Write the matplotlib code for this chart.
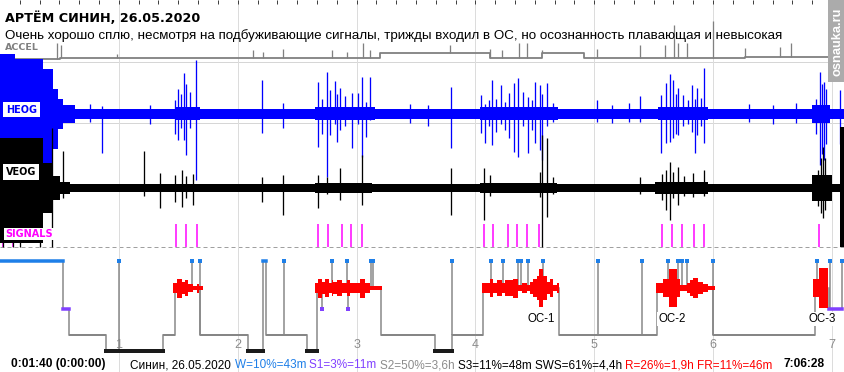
import matplotlib
matplotlib.use('Agg')
import matplotlib.pyplot as plt
from matplotlib.patches import Rectangle
import numpy as np

# ======================= DATA =======================
title = "АРТЁМ СИНИН, 26.05.2020"
subtitle = ("Очень хорошо сплю, несмотря на подбуживающие сигналы, трижды входил в ОС, "
            "но осознанность плавающая и невысокая")
start_label = "0:01:40 (0:00:00)"
end_label = "7:06:28"
watermark = "osnauka.ru"
hour_ticks = [1, 2, 3, 4, 5, 6, 7]
record_hours = 7.11

stats_parts = ["Синин, 26.05.2020", "W=10%=43m", "S1=3%=11m", "S2=50%=3,6h",
               "S3=11%=48m SWS=61%=4,4h", "R=26%=1,9h FR=11%=46m"]
stats_keys = ["txt", "W", "S1", "S2", "S3", "R"]

# hypnogram: stage change times (h) and stages
hyp_t = [0.000, 0.530, 0.581, 0.892, 1.371, 1.472, 1.683, 2.087, 2.213, 2.238, 2.583,
         2.667, 3.206, 3.660, 3.803, 4.064, 4.703, 5.528, 5.999, 6.857, 6.975, 7.085]
hyp_stage = ['W', 'S1', 'S2', 'S3', 'S2', 'R', 'S2', 'S3', 'W', 'S2', 'S3',
             'R', 'S2', 'S3', 'S2', 'R', 'S2', 'R', 'S2', 'R', 'S1']

# brief awakenings (h) and the stage they rise from
wake_t = [1.001, 1.615, 1.683, 2.390, 2.791, 2.917, 3.119, 3.136, 3.803, 4.129, 4.229,
          4.361, 4.381, 4.445, 4.566, 5.029, 5.399, 5.618, 5.707, 5.741, 5.777, 6.002,
          6.874, 6.984, 7.085]
wake_from = ['S3', 'R', 'S2', 'S2', 'R', 'R', 'R', 'R', 'S2', 'R', 'R',
             'R', 'R', 'R', 'R', 'S2', 'S2', 'R', 'R', 'R', 'R', 'S2',
             'R', 'S1', 'S1']
# brief drops to S1 during REM
s1_brief_t = [2.707, 2.925]

# REM episodes: breakpoints (h) and eye-movement density per step
rem_breaks = [
    [1.456, 1.489, 1.531, 1.557, 1.582, 1.624, 1.658, 1.674, 1.708],
    [2.650, 2.676, 2.709, 2.735, 2.768, 2.793, 2.802, 2.836, 2.878, 2.920, 2.945,
     3.029, 3.071, 3.113, 3.214],
    [4.056, 4.123, 4.148, 4.182, 4.224, 4.249, 4.316, 4.358, 4.392, 4.434, 4.459,
     4.485, 4.518, 4.535, 4.569, 4.602, 4.628, 4.653, 4.687, 4.703],
    [5.520, 5.578, 5.629, 5.696, 5.722, 5.780, 5.806, 5.831, 5.873, 5.915, 5.957, 6.016],
    [6.841, 6.891, 6.967],
]
rem_density = [
    [5, 9.5, 6, 8, 4, 2, 4.5, 2],
    [5, 9.5, 6, 9, 5, 8, 6, 8, 5, 8, 5, 9.5, 5, 2],
    [5, 9, 5, 8, 5, 8, 9.5, 3, 5, 3, 6, 9, 12, 19, 12, 6, 9, 3, 5],
    [5, 9, 19, 9, 3, 5, 8, 10, 6, 4, 2],
    [9, 20],
]
oc_names = ["OC-1", "OC-2", "OC-3"]
oc_t = [4.552, 5.654, 6.916]

# sound signals (h)
signal_t = [0.025, 0.109, 1.481, 1.565, 1.658, 2.676, 2.760, 2.878, 2.953, 3.046,
            4.072, 4.148, 4.274, 4.350, 4.434, 4.535,
            5.570, 5.654, 5.738, 5.839, 5.923, 6.891]

# ACCEL: baseline level per period + spikes
accel_t = [0.000, 0.505, 3.197, 4.123, 4.560, 4.914, 6.268, 6.967]
accel_level = [2.0, 2.7, 7.7, 2.7, 7.7, 2.7, 4.3]
accel_spike_t = [0.480, 0.513, 0.984, 2.129, 2.213, 2.381, 2.793, 2.920, 3.054, 3.113,
                 3.786, 4.123, 4.224, 4.367, 4.434, 4.560, 5.023, 5.385, 5.595, 5.671,
                 5.705, 5.780, 5.999, 6.268, 6.563, 6.655]
accel_spike_v = [18, 16, 7, 11, 9, 12, 11, 9, 18, 11,
                 16, 12, 11, 18, 18, 11, 12, 16, 16, 36,
                 18, 18, 40, 13, 14, 18]

# HEOG: envelope (up, down) per period + spikes (t, up, down)
heog_t = [0.000, 0.126, 0.362, 0.446, 0.488, 0.530, 0.631, 1.472, 1.683, 2.650, 3.155,
          4.039, 4.695, 5.536, 5.957, 6.832, 6.984, 7.110]
heog_up = [60, 55, 45, 25, 15, 9, 5, 6.5, 5, 6.5, 5, 6.5, 5, 6.5, 5, 9, 5]
heog_dn = [50, 55, 55, 35, 15, 9, 5, 6.5, 5, 6.5, 5, 6.5, 5, 6.5, 5, 9, 5]
heog_spike_t = [0.757, 0.858, 1.262, 1.472, 1.498, 1.523, 1.548, 1.565, 1.599, 1.649,
                2.204, 2.381, 2.676, 2.709, 2.751, 2.777, 2.819, 2.836, 2.861, 2.903,
                2.962, 3.012, 3.046, 3.080, 3.113, 3.450, 3.600, 3.795, 4.047, 4.081,
                4.114, 4.140, 4.173, 4.215, 4.249, 4.283, 4.325, 4.358, 4.401, 4.443,
                4.476, 4.501, 4.544, 4.560, 4.602, 4.653, 5.023, 5.150, 5.292, 5.385,
                5.562, 5.604, 5.637, 5.663, 5.688, 5.705, 5.747, 5.789, 5.822, 5.848,
                5.865, 5.898, 5.923, 6.300, 6.500, 6.700, 6.866, 6.899, 6.916, 6.933,
                6.950, 7.068]
heog_spike_up = [10, 8, 9, 14, 25, 20, 41, 30, 22, 54,
                 34, 11, 32, 15, 42, 24, 33, 20, 26, 18,
                 21, 21, 37, 12, 37, 10, 9, 27, 19, 10,
                 14, 34, 15, 29, 12, 21, 31, 36, 22, 17,
                 14, 32, 29, 20, 31, 11, 14, 9, 11, 18,
                 19, 31, 40, 34, 20, 26, 19, 14, 29, 15,
                 26, 16, 46, 10, 9, 11, 15, 42, 30, 32,
                 25, 24]
heog_spike_dn = [8, 39, 10, 20, 26, 14, 26, 41, 14, 66,
                 19, 14, 33, 20, 63, 21, 10, 28, 16, 12,
                 34, 10, 43, 23, 6, 9, 12, 34, 19, 29,
                 12, 31, 18, 10, 16, 24, 38, 43, 12, 39,
                 16, 29, 36, 46, 12, 8, 8, 9, 8, 8,
                 39, 29, 28, 24, 20, 21, 12, 10, 18, 39,
                 21, 12, 29, 8, 10, 9, 20, 51, 40, 46,
                 30, 30]

# VEOG
veog_t = [0.000, 0.362, 0.446, 0.505, 0.589, 2.650, 3.130, 4.039, 4.687, 5.511, 5.957,
          6.832, 7.000, 7.068, 7.110]
veog_up = [50, 25, 12, 6, 3.8, 5, 3.8, 5, 3.8, 6, 3.8, 13, 4, 61]
veog_dn = [55, 25, 12, 6, 3.8, 5, 3.8, 5, 3.8, 6, 3.8, 13, 4, 59]
veog_spike_t = [0.025, 0.109, 0.168, 0.337, 0.438, 0.530, 1.212, 1.346, 1.472, 1.531,
                1.565, 1.624, 2.204, 2.381, 2.676, 2.751, 2.861, 3.046, 3.795, 4.072,
                4.123, 4.544, 4.560, 4.602, 4.653, 5.385, 5.570, 5.604, 5.637, 5.663,
                5.705, 5.755, 5.831, 5.923, 6.857, 6.883, 6.908, 6.925, 6.941, 6.967]
veog_spike_up = [45, 40, 50, 45, 60, 37, 37, 15, 13, 18,
                 12, 14, 11, 13, 13, 11, 20, 33, 20, 20,
                 13, 16, 53, 50, 11, 11, 14, 18, 26, 16,
                 21, 12, 15, 18, 12, 18, 30, 41, 30, 12]
veog_spike_dn = [59, 59, 59, 59, 59, 10, 8, 20, 14, 19,
                 10, 17, 14, 27, 20, 6, 12, 17, 27, 32,
                 8, 9, 59, 29, 6, 6, 12, 22, 32, 10,
                 17, 8, 9, 8, 10, 18, 25, 30, 22, 10]

# ======================= LAYOUT / STYLE =======================
W_PX, H_PX = 845, 372
PT = 0.72  # points per pixel at 100 dpi
Y_ACCEL, Y_HEOG, Y_VEOG = 61, 113.5, 188
Y_SIG0, Y_SIG1 = 224, 247
Y_REM = 288
stage_y = {'W': 260.5, 'R': Y_REM, 'S1': 309, 'S2': 335, 'S3': 350.5}
C_W, C_S1, C_S2, C_S3, C_R = '#1e7fe8', '#8040ff', '#868686', '#1a1a1a', '#ff0000'
seg_style = {'W': (C_W, 3.5), 'S1': (C_S1, 3.5), 'S2': (C_S2, 2.0), 'S3': (C_S3, 4.0)}
stat_colors = {'txt': '#000000', 'W': C_W, 'S1': C_S1, 'S2': '#8c8c8c', 'S3': '#000000', 'R': C_R}

fig = plt.figure(figsize=(W_PX / 100, H_PX / 100), dpi=100)
fig.patch.set_facecolor('white')

bg = fig.add_axes([0, 0, 1, 1], zorder=0)
ax = fig.add_axes([0, 0, 1, 1], zorder=1)
fg = fig.add_axes([0, 0, 1, 1], zorder=2)
for a in (bg, fg):
    a.set_xlim(0, W_PX)
    a.set_ylim(H_PX, 0)
ax.set_xlim(0, W_PX / 118.85)
ax.set_ylim(H_PX, 0)
for a in (bg, ax, fg):
    a.axis('off')
    a.patch.set_alpha(0)

# background guides
bg.hlines([Y_ACCEL + 0.5, 123, 186], 0, W_PX, color='#d6d6d6', lw=1 * PT)
bg.hlines(Y_SIG1, 0, W_PX, color='#a0a0a0', lw=1 * PT, linestyles=(0, (4, 3)))

# hour grid + top ticks
ax.vlines(hour_ticks, 0, H_PX, color='#dcdcdc', lw=1 * PT, zorder=0)
ax.vlines(np.arange(1 / 6, record_hours, 1 / 6), 0, 4, color='#404040', lw=1 * PT, zorder=0)
for h in hour_ticks:
    ax.text(h, 348.5, str(h), ha='center', va='baseline', color='#8c8c8c',
            fontsize=9, family='Liberation Sans')

# ACCEL
acc_base = [Y_ACCEL - v for v in accel_level]
ax.step(accel_t, acc_base + [acc_base[-1]], where='post', color='#808080', lw=1.8 * PT, zorder=1)
idx = np.searchsorted(accel_t, accel_spike_t, side='right') - 1
ax.vlines(accel_spike_t, [acc_base[i] for i in idx], [Y_ACCEL - v for v in accel_spike_v],
          color='#808080', lw=1.3 * PT, zorder=1)

# HEOG
ax.fill_between(heog_t, [Y_HEOG - u for u in heog_up + [heog_up[-1]]],
                [Y_HEOG + d for d in heog_dn + [heog_dn[-1]]],
                step='post', color='#0000ff', lw=0, zorder=2)
ax.vlines(heog_spike_t, [Y_HEOG - u for u in heog_spike_up],
          [Y_HEOG + d for d in heog_spike_dn], color='#0000ff', lw=1.3 * PT, zorder=2)

# signals
ax.vlines(signal_t, Y_SIG0, Y_SIG1, color='#ff00ff', lw=1.5 * PT, zorder=1.5)

# VEOG
ax.fill_between(veog_t, [Y_VEOG - u for u in veog_up + [veog_up[-1]]],
                [Y_VEOG + d for d in veog_dn + [veog_dn[-1]]],
                step='post', color='#000000', lw=0, zorder=3)
ax.vlines(veog_spike_t, [Y_VEOG - u for u in veog_spike_up],
          [Y_VEOG + d for d in veog_spike_dn], color='#000000', lw=1.3 * PT, zorder=3)

# hypnogram
for i, st in enumerate(hyp_stage):
    t0, t1 = hyp_t[i], hyp_t[i + 1]
    if st in seg_style:
        c, w = seg_style[st]
        ax.plot([t0, t1], [stage_y[st], stage_y[st]], color=c, lw=w * PT,
                solid_capstyle='butt' if st == 'S2' else 'projecting', zorder=4.5)
    if i > 0:
        ax.plot([t0, t0], [stage_y[hyp_stage[i - 1]], stage_y[st]], color=C_S2,
                lw=1.5 * PT, zorder=4)
for b, d in zip(rem_breaks, rem_density):
    dd = d + [d[-1]]
    ax.fill_between(b, [Y_REM - v for v in dd], [Y_REM + v for v in dd], step='post',
                    color=C_R, lw=0, zorder=5)
ax.vlines(wake_t, stage_y['W'], [stage_y[s] for s in wake_from], color=C_S2,
          lw=1.5 * PT, zorder=4)
ax.plot(wake_t, [stage_y['W']] * len(wake_t), 's', color=C_W, ms=3.6 * PT, mew=0, zorder=6)
ax.vlines(s1_brief_t, stage_y['R'], stage_y['S1'], color=C_S2, lw=1.5 * PT, zorder=4)
ax.plot(s1_brief_t, [stage_y['S1']] * len(s1_brief_t), 's', color=C_S1, ms=3.6 * PT,
        mew=0, zorder=6)
for name, t in zip(oc_names, oc_t):
    ax.text(t, 321.7, name, ha='center', va='baseline', fontsize=8.3,
            family='Liberation Sans', color='black', zorder=7,
            bbox=dict(facecolor='white', edgecolor='none', pad=0.6))

# ---------- text ----------
fg.text(5, 21.7, title, fontsize=9.2, fontweight='bold', family='DejaVu Sans', va='baseline')
fg.text(5, 39.4, subtitle, fontsize=9.62, family='Liberation Sans', va='baseline')
fg.text(5, 50.3, "ACCEL", fontsize=6.8, fontweight='bold', family='DejaVu Sans',
        color='#808080', va='baseline')
fg.text(6, 112.7, "HEOG", fontsize=7, fontweight='bold', family='DejaVu Sans',
        color='#0000ff', va='baseline',
        bbox=dict(facecolor='white', edgecolor='none', pad=1.8))
fg.text(6, 175, "VEOG", fontsize=7, fontweight='bold', family='DejaVu Sans',
        color='#000000', va='baseline',
        bbox=dict(facecolor='white', edgecolor='none', pad=1.8))
fg.text(5, 236.7, "SIGNALS", fontsize=7, fontweight='bold', family='DejaVu Sans',
        color='#ff00ff', va='baseline',
        bbox=dict(facecolor='white', edgecolor='none', pad=0.8))

fg.text(11, 367, start_label, fontsize=8.6, fontweight='bold', family='Liberation Sans',
        va='baseline')
fg.text(825, 367, end_label, fontsize=8.6, fontweight='bold', family='Liberation Sans',
        va='baseline', ha='right')

prev = fg.text(130.5, 368.3, stats_parts[0] + " ", fontsize=8.45, family='Liberation Sans',
               va='baseline', color=stat_colors[stats_keys[0]])
for part, key in zip(stats_parts[1:], stats_keys[1:]):
    prev = fg.annotate(part + " ", xy=(1, 0), xycoords=prev, va='bottom', ha='left',
                       fontsize=8.45, family='Liberation Sans', color=stat_colors[key])

# watermark
fg.add_patch(Rectangle((827.7, 0), W_PX - 827.7, 82, facecolor='#ababab', edgecolor='none'))
fg.text(837.5, 42, watermark, rotation=90, ha='center', va='center', color='white',
        fontsize=9.3, fontweight='bold', family=['Liberation Sans Narrow', 'Liberation Sans'])

fig.savefig('out.png', dpi=100, facecolor='white')
